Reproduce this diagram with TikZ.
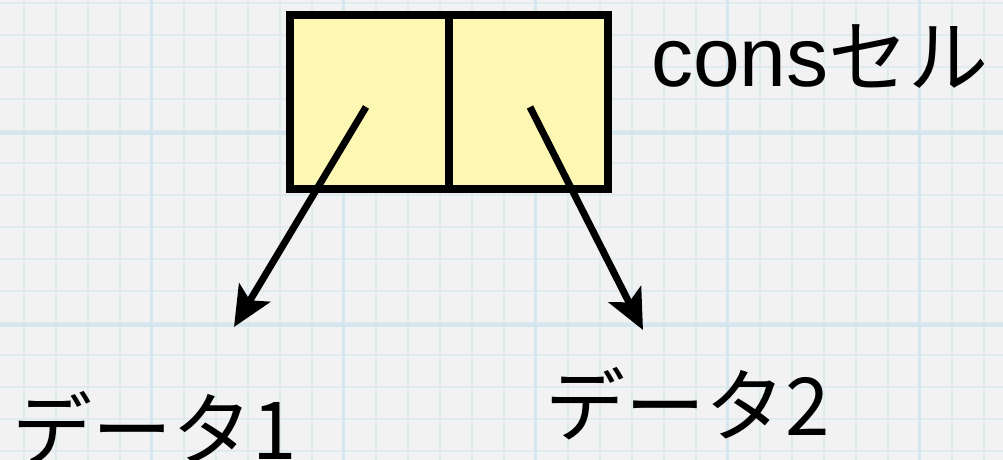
\documentclass[tikz,border=0pt]{standalone}
\usepackage{fontspec}
\setmainfont{Noto Sans CJK JP}
\newfontfamily\latinfont{Liberation Sans}
\usetikzlibrary{arrows.meta}
\definecolor{paper}{RGB}{242,242,242}
\definecolor{gridminor}{RGB}{222,235,240}
\definecolor{gridmajor}{RGB}{213,230,238}
\definecolor{cellfill}{RGB}{253,247,180}
\tikzset{
  cell/.style={draw=black, fill=cellfill, line width=8pt, minimum height=173.5pt, inner sep=0pt, line join=miter},
  pointer/.style={line width=7pt, -{Stealth[length=40pt,width=36pt,inset=9pt]}},
  lbl/.style={inner sep=0pt, anchor=base west, font=\fontsize{80}{90}\selectfont},
}
\begin{document}
\begin{tikzpicture}[x=1pt,y=-1pt]
\useasboundingbox (0,0) rectangle (1003,460);
\fill[paper] (0,0) rectangle (1003,460);
% grid
\foreach \i in {0,...,31} {
  \draw[gridminor, line width=2pt] ({23.5+32*\i},0) -- ({23.5+32*\i},460);
}
\foreach \j in {0,...,14} {
  \draw[gridminor, line width=2pt] (0,{3+32*\j}) -- (1003,{3+32*\j});
}
\foreach \i in {0,...,5} {
  \draw[gridmajor, line width=3.5pt] ({151.5+192*\i},0) -- ({151.5+192*\i},460);
}
\foreach \j in {0,1,2} {
  \draw[gridmajor, line width=3.5pt] (0,{-59+192*\j}) -- (1003,{-59+192*\j});
}
% cons cell
\node[cell, minimum width=159pt] (car) at (369.5,102.25) {};
\node[cell, minimum width=158.5pt] (cdr) at (528.25,102.25) {};
\coordinate (d1tip) at (234,327);
\coordinate (d2tip) at (643,330);
\coordinate (carp) at (366,107);
\coordinate (cdrp) at (530,107);
\draw[pointer] (carp) -- (d1tip);
\draw[pointer] (cdrp) -- (d2tip);
% labels
\node[lbl] (conslbl) at (651,86) {{\latinfont\fontsize{84}{90}\selectfont cons}セル};
\node[lbl] (data1) at (12,459) {データ1};
\node[lbl] (data2) at (545,435) {データ2};
\end{tikzpicture}
\end{document}
